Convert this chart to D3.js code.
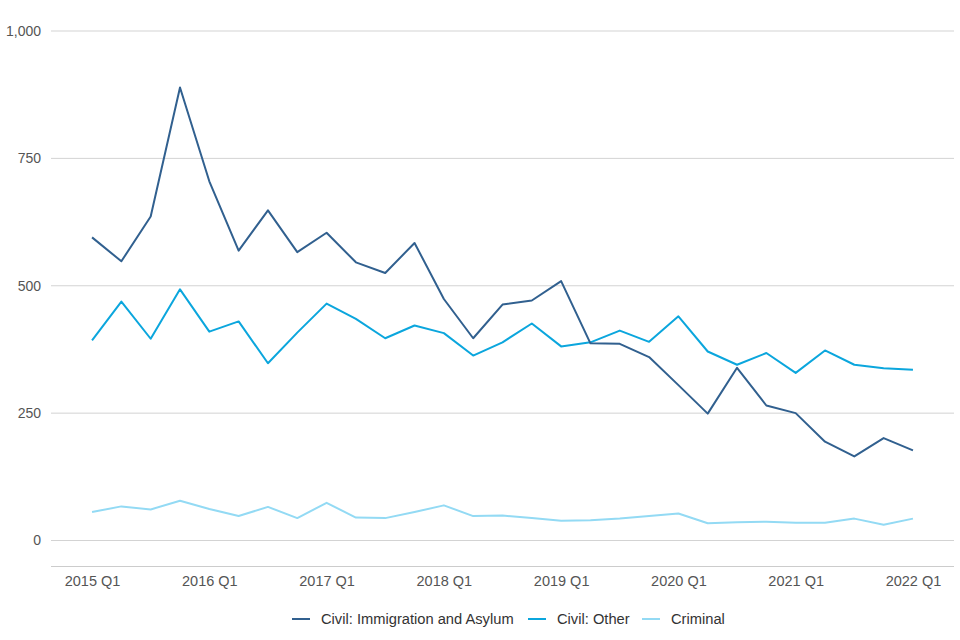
<!DOCTYPE html>
<html>
<head>
<meta charset="utf-8">
<script src="https://cdn.jsdelivr.net/npm/d3@7"></script>
<style>
  body { margin: 0; background: #fff; }
  text { font-family: "Liberation Sans", Arial, sans-serif; }
</style>
</head>
<body>
<script>
const width = 960, height = 640;

// quarters 2015 Q1 .. 2022 Q1
const years = [2015, 2016, 2017, 2018, 2019, 2020, 2021, 2022];
const quarters = [];
years.forEach(y => [1, 2, 3, 4].forEach(q => { if (y < 2022 || q === 1) quarters.push(y + " Q" + q); }));

const immigration = [595, 548, 636, 889, 705, 569, 648, 566, 604, 546, 525, 584, 474, 397, 463, 471, 509, 387, 386,
    360, 305, 249, 339, 265, 250, 194, 165, 201, 177];
const civilOther = [393, 469, 396, 493, 410, 430, 348, 408, 465, 435, 397, 422, 407, 363, 389, 426, 381, 389, 412,
    390, 440, 371, 345, 368, 329, 373, 345, 338, 335];
const criminal = [56, 67, 61, 78, 62, 48, 66, 44, 74, 45, 44, 56, 69, 48, 49, 44, 39, 40, 43,
    48, 53, 34, 36, 37, 35, 35, 43, 31, 43];

const series = [
    { name: "Civil: Immigration and Asylum", values: immigration, color: "#31608f" },
    { name: "Civil: Other", values: civilOther, color: "#0ba6dd" },
    { name: "Criminal", values: criminal, color: "#93daf4" }
];
const yTicks = [0, 250, 500, 750, 1000];

const svg = d3.select("body").append("svg")
    .attr("width", width)
    .attr("height", height);

const x = d3.scalePoint()
    .domain(quarters)
    .range([51, 954])
    .padding(1.4);

const y = d3.scaleLinear()
    .domain([-50, 1000])
    .range([566, 31]);

// gridlines
svg.append("g")
    .selectAll("line")
    .data(yTicks)
    .join("line")
    .attr("x1", 51)
    .attr("x2", 954)
    .attr("y1", d => y(d))
    .attr("y2", d => y(d))
    .attr("stroke", "#d3d3d3")
    .attr("stroke-width", 1);

// y labels
svg.append("g")
    .selectAll("text")
    .data(yTicks)
    .join("text")
    .attr("x", 41)
    .attr("y", d => y(d))
    .attr("dy", "0.35em")
    .attr("text-anchor", "end")
    .attr("font-size", 14)
    .attr("fill", "#555")
    .text(d => d3.format(",")(d));

// x axis
const xAxis = d3.axisBottom(x)
    .tickValues(quarters.filter((d, i) => i % 4 === 0))
    .tickSize(0)
    .tickPadding(10);

const gx = svg.append("g")
    .attr("transform", `translate(0, ${y(-50)})`)
    .call(xAxis);
gx.select(".domain").attr("stroke", "#cccccc").attr("d", "M51,0.5H954");
gx.selectAll("text")
    .attr("font-size", 14.5)
    .attr("fill", "#555")
    .style("font-family", '"Liberation Sans", Arial, sans-serif');

// lines
const line = d3.line()
    .x((d, i) => x(quarters[i]))
    .y(d => y(d));

svg.append("g")
    .selectAll("path")
    .data(series.slice().reverse())
    .join("path")
    .attr("d", d => line(d.values))
    .attr("fill", "none")
    .attr("stroke", d => d.color)
    .attr("stroke-width", 2)
    .attr("stroke-linejoin", "round");

// legend
const legend = svg.append("g").attr("transform", "translate(0, 619)");
const legendX = [292, 528, 642];
series.forEach((s, i) => {
    legend.append("line")
        .attr("x1", legendX[i])
        .attr("x2", legendX[i] + 18)
        .attr("stroke", s.color)
        .attr("stroke-width", 2);
    legend.append("text")
        .attr("x", legendX[i] + 29)
        .attr("dy", "0.35em")
        .attr("font-size", 14.7)
        .attr("fill", "#333")
        .text(s.name);
});
</script>
</body>
</html>
